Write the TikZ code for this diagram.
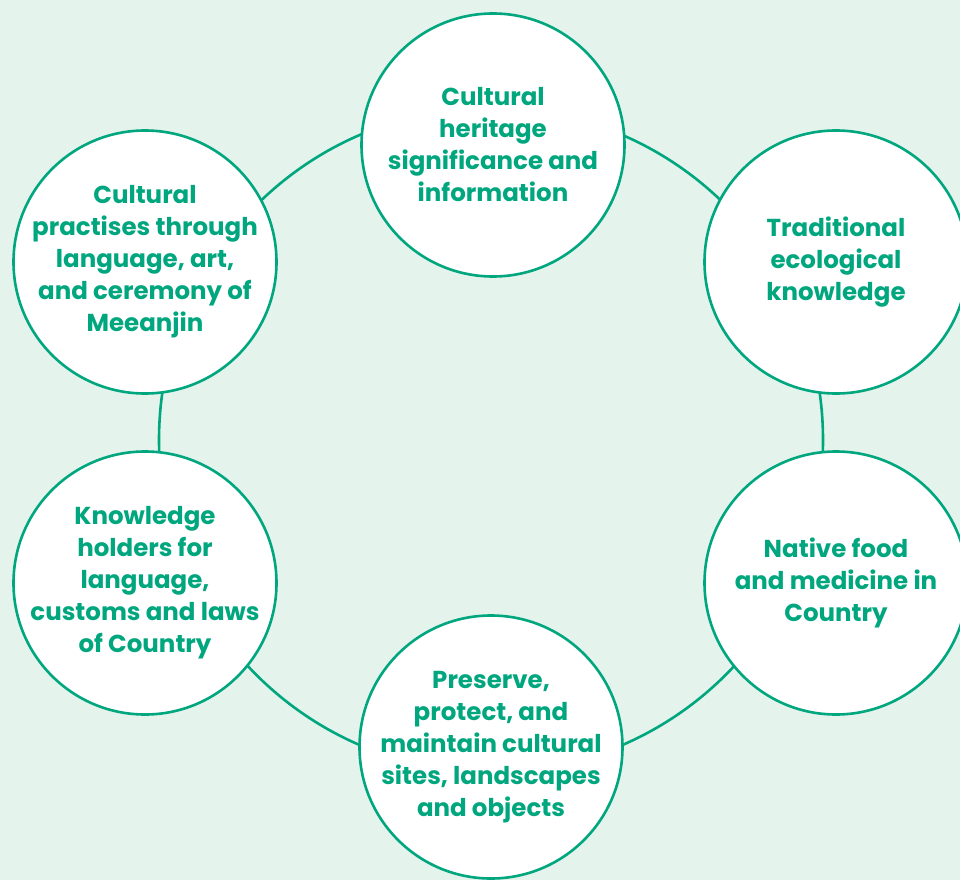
\documentclass[tikz,border=0pt]{standalone}
\usepackage{fontspec}
\setmainfont{Poppins}
\definecolor{bgmint}{RGB}{228,243,236}
\definecolor{teal}{RGB}{0,166,126}
\begin{document}
\begin{tikzpicture}[x=1pt,y=-1pt,
  topic/.style={circle,draw=teal,line width=2.6pt,fill=white,minimum size=263pt,inner sep=0pt},
  topictext/.style={inner sep=0pt,text=teal,align=center,font=\fontsize{24.5}{32}\selectfont\bfseries},
  ring/.style={draw=teal,line width=2.6pt}]
\fill[bgmint] (0,0) rectangle (960,880);
\useasboundingbox (0,0) rectangle (960,880);
\coordinate (rc) at (491,440);
\draw[ring] (rc) circle[radius=332pt];
\node[topic] (top) at (493,145) {};
\node[topic] (tr) at (836,262) {};
\node[topic] (br) at (836,583) {};
\node[topic] (bot) at (491,747) {};
\node[topic] (bl) at (145,583) {};
\node[topic] (tl) at (145,262) {};
\node[topictext] (toptxt) at (top) {Cultural\\heritage\\significance and\\information};
\node[topictext] (trtxt) at (tr) {Traditional\\ecological\\knowledge};
\node[topictext] (brtxt) at (br) {Native food\\and medicine in\\Country};
\node[topictext] (bottxt) at (bot) {Preserve,\\protect, and\\maintain cultural\\sites, landscapes\\and objects};
\node[topictext] (bltxt) at (bl) {Knowledge\\holders for\\language,\\customs and laws\\of Country};
\node[topictext] (tltxt) at (tl) {Cultural\\practises through\\language, art,\\and ceremony of\\Meeanjin};
\end{tikzpicture}
\end{document}
